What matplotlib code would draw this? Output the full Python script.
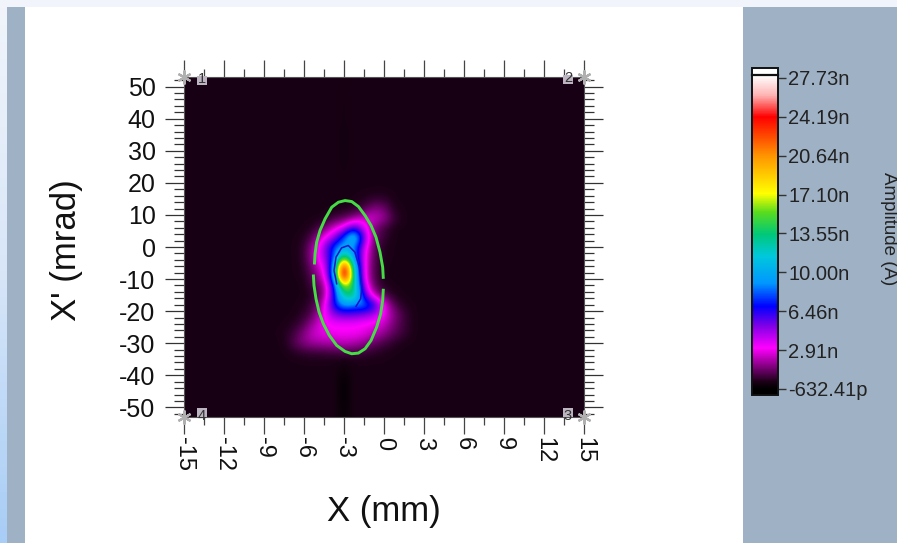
import numpy as np
import matplotlib
matplotlib.use('Agg')
import matplotlib.pyplot as plt
from matplotlib.colors import LinearSegmentedColormap, Normalize
from matplotlib.patches import Rectangle
from matplotlib.ticker import MultipleLocator

plt.rcParams['font.family'] = ['Liberation Sans', 'DejaVu Sans']

W, H = 897, 543

# amplitude in nA (X step 0.75 mm, X' step 3 mrad)
patch_x = [-7.5, -6.75, -6, -5.25, -4.5, -3.75, -3, -2.25, -1.5, -0.75, 0, 0.75, 1.5]
patch_y = [18, 15, 12, 9, 6, 3, 0, -3, -6, -9, -12, -15, -18, -21, -24, -27, -30, -33, -36]
patch = [
    [0, 0, 0, 0, 0, 0, 0, 0, 0, 0, 0, 0, 0],
    [0, 0, 0, 0, 0, 0, 0, 0, 0.1, 0.3, 0.3, 0, 0],
    [0, 0, 0, 0, 0, 0, 0, 0.2, 0.6, 1.5, 1.2, 0.1, 0],
    [0, 0, 0, 0, 0, 0.5, 0.8, 1.5, 2.5, 2.5, 1.8, 0.5, 0],
    [0, 0, 0, 0.2, 1.0, 2.5, 3.5, 6.5, 3.6, 1.3, 0.6, 0, 0],
    [0, 0, 0.1, 1.0, 3.0, 4.5, 8.0, 12.0, 5.5, 1.2, 0.4, 0, 0],
    [0, 0, 0.3, 2.0, 4.5, 8.0, 9.5, 9.0, 4.0, 0.9, 0.1, 0, 0],
    [0, 0, 0.3, 2.2, 4.5, 7.5, 15.0, 9.0, 3.4, 0.8, 0.1, 0, 0],
    [0, 0, 0.2, 1.6, 3.3, 8.5, 27.0, 11.5, 3.2, 0.7, 0, 0, 0],
    [0, 0, 0.1, 1.1, 2.5, 9.0, 29.0, 12.5, 3.1, 0.7, 0, 0, 0],
    [0, 0, 0, 0.7, 1.5, 6.5, 17.5, 13.5, 4.0, 1.0, 0.1, 0, 0],
    [0, 0, 0, 0.3, 1.3, 6.5, 13.0, 14.0, 6.0, 2.0, 0.8, 0.1, 0],
    [0, 0, 0.1, 0.6, 2.5, 7.0, 9.5, 8.5, 9.0, 7.0, 3.0, 0.8, 0.1],
    [0, 0, 0.3, 1.0, 3.0, 5.0, 5.5, 5.5, 5.0, 4.5, 3.0, 1.5, 0.5],
    [0, 0.2, 0.7, 2.0, 3.0, 3.2, 3.2, 3.2, 3.0, 2.8, 2.4, 1.2, 0.5],
    [0.1, 0.5, 1.5, 2.5, 2.8, 3.0, 3.0, 3.0, 2.8, 2.2, 1.6, 0.9, 0.4],
    [0, 0.8, 1.5, 1.8, 1.9, 2.0, 2.2, 2.0, 1.6, 1.0, 0.6, 0.2, 0],
    [0, 0.1, 0.3, 0.4, 0.4, 0.5, 0.6, 0.5, 0.4, 0.2, 0.1, 0, 0],
    [0, 0, 0, 0, 0, 0, -0.2, 0, 0, 0, 0, 0, 0],
]
streak_top_y = [54, 51, 48, 45, 42, 39, 36, 33, 30, 27, 24, 21]
streak_top = [-0.1, -0.1, -0.1, -0.15, -0.15, -0.15, -0.2, -0.2, -0.2, -0.2, -0.15, -0.1]
streak_bottom_y = [-39, -42, -45, -48, -51, -54]
streak_bottom = [-0.4, -0.6, -0.6, -0.6, -0.5, -0.5]

# phase space ellipses, in two arcs where the green one is broken
ell_up_x = [-5.22, -5.17, -5.05, -4.80, -4.42, -3.92, -3.42, -2.92, -2.42, -1.92, -1.42, -0.97, -0.60, -0.30, -0.10, -0.05]
ell_up_y = [-5.45, -2.13, 1.50, 5.14, 8.77, 12.41, 13.96, 14.48, 14.17, 12.62, 9.81, 6.70, 3.06, -1.61, -6.28, -9.92]
ell_lo_x = [-0.05, -0.10, -0.25, -0.55, -0.97, -1.42, -1.92, -2.42, -2.92, -3.55, -4.10, -4.55, -4.87, -5.10, -5.25, -5.30]
ell_lo_y = [-13.03, -16.67, -20.82, -24.98, -29.13, -31.73, -33.07, -33.28, -32.56, -30.69, -27.57, -23.94, -20.30, -16.15, -12.00, -8.57]
inner_x = [-3.55, -3.75, -3.60, -3.18, -2.68, -2.18, -1.85, -1.65, -1.75, -2.10]
inner_y = [-11.47, -7.32, -3.17, -0.26, 0.47, -1.61, -6.28, -12.51, -16.15, -18.54]

x_ticks = [-15, -12, -9, -6, -3, 0, 3, 6, 9, 12, 15]
x_labels = ['-15', '-12', '-9', '-6', '-3', '0', '3', '6', '9', '12', '15']
y_ticks = [50, 40, 30, 20, 10, 0, -10, -20, -30, -40, -50]
y_labels = ['50', '40', '30', '20', '10', '0', '-10', '-20', '-30', '-40', '-50']

cbar_ticks = [27.73, 24.19, 20.64, 17.10, 13.55, 10.00, 6.46, 2.91, -0.63241]
cbar_labels = ['27.73n', '24.19n', '20.64n', '17.10n', '13.55n', '10.00n', '6.46n', '2.91n', '-632.41p']

# colour scale stops (value in nA, colour)
stop_values = [-1.18, -0.63, 0.0, 3.1, 5.1, 6.9, 9.0, 11.5, 13.5, 15.5, 17.2, 20.6, 24.2, 26.2, 28.0]
stop_colors = ['#000000', '#000000', '#1a0016', '#ff00ff', '#8000e6', '#0000ff', '#0096ff', '#00c8dc',
               '#00c878', '#5adc1e', '#ffff00', '#ff9600', '#ff0000', '#ffb4b4', '#ffffff']
vmin, vmax = stop_values[0], stop_values[-1]
cmap = LinearSegmentedColormap.from_list(
    'amp', [((v - vmin) / (vmax - vmin), c) for v, c in zip(stop_values, stop_colors)], N=512)
cmap.set_over('white')
norm = Normalize(vmin, vmax)


def box(x0, y0, x1, y1):
    # pixel box, y counted from the top, to figure fractions
    return [x0 / W, 1 - y1 / H, (x1 - x0) / W, (y1 - y0) / H]


fig = plt.figure(figsize=(W / 100, H / 100), dpi=100, facecolor='white')


def rect(x0, y0, x1, y1, color, z=-5):
    l, b, w, h = box(x0, y0, x1, y1)
    fig.patches.append(Rectangle((l, b), w, h, transform=fig.transFigure, figure=fig,
                                 facecolor=color, edgecolor='none', zorder=z))


rect(0, 0, W, 7, '#f1f5fb')
rect(6, 7, 25, H, '#9eb1c5')
rect(743, 7, W, H, '#9fb1c4')

# left edge gradient
edge = LinearSegmentedColormap.from_list('edge', ['#f1f5fb', '#d8e6f8', '#a8cdf6'])
ax_edge = fig.add_axes(box(0, 0, 6, H))
ax_edge.imshow(np.linspace(0, 1, 64)[:, None], cmap=edge, aspect='auto')
ax_edge.axis('off')

# main map
grid_x = np.arange(-15, 15.01, 0.75)
grid_y = np.arange(54, -54.01, -3)
Z = np.zeros((len(grid_y), len(grid_x)))
col0 = int(np.argmin(abs(grid_x - patch_x[0])))
row0 = int(np.argmin(abs(grid_y - patch_y[0])))
Z[row0:row0 + len(patch_y), col0:col0 + len(patch_x)] = patch
col_s = int(np.argmin(abs(grid_x + 3)))
for yy, v in zip(streak_top_y + streak_bottom_y, streak_top + streak_bottom):
    Z[int(np.argmin(abs(grid_y - yy))), col_s] = v

ax = fig.add_axes(box(184, 77, 584, 417))
im = ax.imshow(Z, cmap=cmap, norm=norm, aspect='auto', interpolation='bicubic',
               extent=[grid_x[0] - 0.375, grid_x[-1] + 0.375, grid_y[-1] - 1.5, grid_y[0] + 1.5])
ax.plot(ell_up_x, ell_up_y, color='#44dd44', lw=2.1, solid_capstyle='butt')
ax.plot(ell_lo_x, ell_lo_y, color='#44dd44', lw=2.1, solid_capstyle='butt')
ax.plot(inner_x, inner_y, color='#1414c8', lw=1.1)
ax.set_xlim(-15, 15)
ax.set_ylim(-53, 53)

ax.set_xticks(x_ticks)
ax.set_xticklabels(x_labels, rotation=-90, fontsize=17, color='#111111')
ax.set_yticks(y_ticks)
ax.set_yticklabels(y_labels, fontsize=18, color='#111111')
ax.xaxis.set_minor_locator(MultipleLocator(1.5))
ax.yaxis.set_minor_locator(MultipleLocator(2))
ax.tick_params(axis='x', which='major', length=12.2, width=0.9, color='#444444', top=True, pad=2)
ax.tick_params(axis='x', which='minor', length=5.8, width=0.9, color='#444444', top=True)
ax.tick_params(axis='y', which='major', length=13.5, width=0.9, color='#333333', right=True, pad=7)
ax.tick_params(axis='y', which='minor', length=7.5, width=0.9, color='#333333', right=True)
for s in ax.spines.values():
    s.set_color('#555555')
    s.set_linewidth(0.8)

# corner markers
ax.plot([-15, 15, 15, -15], [53, 53, -53, -53], ls='none', marker=(6, 2, 0), ms=10, mew=1.6,
        color='#b0b0b0', clip_on=False, zorder=6)
for txt, x0, y0 in [('1', 197, 76), ('2', 563, 75), ('3', 563, 408), ('4', 197, 408)]:
    rect(x0, y0, x0 + 10, y0 + 9, '#bcb4c0', z=5)
    fig.text((x0 + 5) / W, 1 - (y0 + (3 if txt in '12' else 8)) / H, txt, fontsize=10.5, color='#333333',
             ha='center', va='center', zorder=7)

fig.text(384 / W, 1 - 512 / H, 'X (mm)', fontsize=25, color='#111111', ha='center', va='center')
fig.text(66 / W, 1 - 250 / H, "X' (mrad)", fontsize=25, color='#111111', ha='center', va='center', rotation=90)

# colour bar
cax = fig.add_axes(box(752, 68, 778, 395))
cb = fig.colorbar(im, cax=cax, extend='max', extendrect=True, extendfrac=7 / 320)
cb.set_ticks(cbar_ticks)
cb.set_ticklabels(cbar_labels)
cb.minorticks_off()
cb.ax.tick_params(length=6, width=1, color='#333333', labelsize=14.5, labelcolor='#222222', pad=1.5)
cb.ax.axhline(vmax, color='#111111', lw=1.6, clip_on=False)
cb.outline.set_edgecolor('#111111')
cb.outline.set_linewidth(1.4)
fig.text(888 / W, 1 - 229 / H, 'Amplitude (A)', fontsize=13.5, color='#222222', ha='center', va='center',
         rotation=-90)

fig.savefig('out.png', dpi=100)
